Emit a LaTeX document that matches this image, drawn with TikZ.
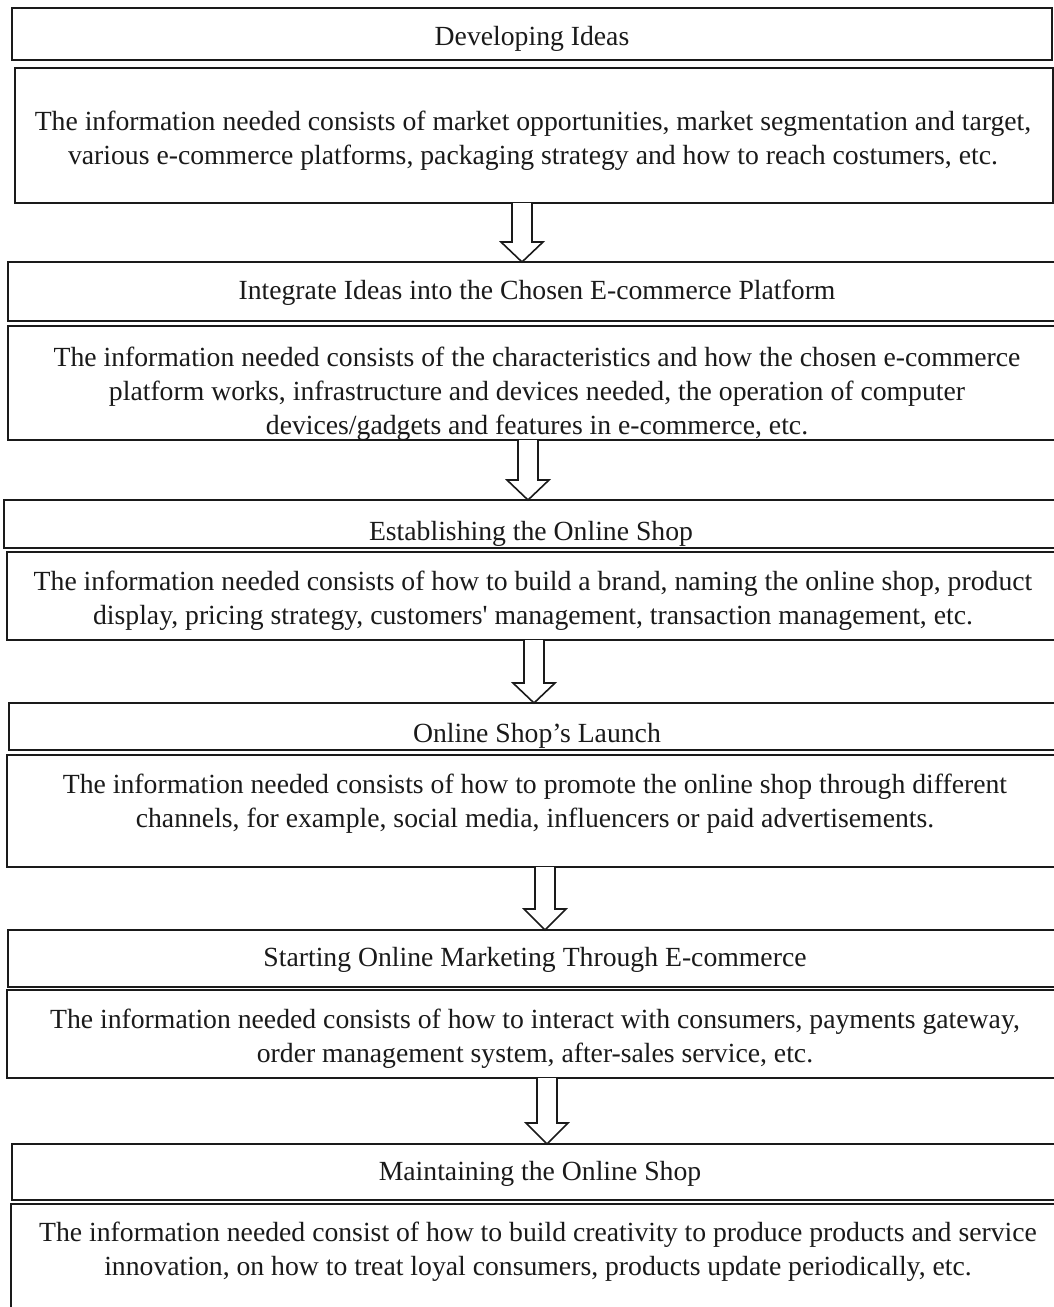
\documentclass[tikz,border=0pt]{standalone}
\usepackage{fontspec}
\setmainfont{Liberation Serif}
\usetikzlibrary{calc}
\definecolor{ink}{HTML}{1A1A1A}
\tikzset{
  x=1pt,y=1pt,
  boxnode/.style={draw=ink, line width=1.8pt, rectangle, inner sep=0pt, outer sep=0pt, anchor=north west},
  txt/.style={inner sep=0pt, align=center, text=ink, font=\fontsize{27.7}{34}\selectfont},
  blockarrow/.style={draw=ink, line width=1.6pt, fill=white, line join=miter}
}
\newcommand\mkbox[5]{\node[boxnode, minimum width={#4-#2}, minimum height={#5-#3}] (#1) at (#2,-#3) {};}
\begin{document}
\begin{tikzpicture}
\useasboundingbox (0,0) rectangle (1054,-1307);
\clip (0,0) rectangle (1054,-1307);
\fill[white] (0,0) rectangle (1054,-1307);
% boxes
\mkbox{b1}{12}{8}{1052}{60}
\mkbox{b2}{15}{68}{1053}{203}
\mkbox{b3}{8}{262}{1064}{321}
\mkbox{b4}{8}{326}{1064}{440}
\mkbox{b5}{4}{500}{1064}{548}
\mkbox{b6}{7}{552}{1064}{640}
\mkbox{b7}{9}{703}{1064}{750}
\mkbox{b8}{7}{755}{1064}{867}
\mkbox{b9}{8}{930}{1064}{987}
\mkbox{b10}{7}{990}{1064}{1078}
\mkbox{b11}{12}{1144}{1064}{1200}
\mkbox{b12}{11}{1204}{1064}{1330}
% texts
\node[txt] (t1) at (532,-39) {Developing Ideas};
\node[txt] (t2) at (533,-141) {The information needed consists of market opportunities, market segmentation and target,\\various e-commerce platforms, packaging strategy and how to reach costumers, etc.};
\node[txt] (t3) at (537,-293) {Integrate Ideas into the Chosen E-commerce Platform};
\begin{scope}
\clip (b4.north west) rectangle (b4.south east);
\node[txt] (t4) at (537,-394) {The information needed consists of the characteristics and how the chosen e-commerce\\platform works, infrastructure and devices needed, the operation of computer\\devices/gadgets and features in e-commerce, etc.};
\end{scope}
\begin{scope}
\clip (b5.north west) rectangle (b5.south east);
\node[txt] (t5) at (531,-534) {Establishing the Online Shop};
\end{scope}
\node[txt] (t6) at (533,-601) {The information needed consists of how to build a brand, naming the online shop, product\\display, pricing strategy, customers\textquotesingle{} management, transaction management, etc.};
\begin{scope}
\clip (b7.north west) rectangle (b7.south east);
\node[txt] (t7) at (537,-736) {Online Shop’s Launch};
\end{scope}
\node[txt] (t8) at (535,-804) {The information needed consists of how to promote the online shop through different\\channels, for example, social media, influencers or paid advertisements.};
\node[txt] (t9) at (535,-960) {Starting Online Marketing Through E-commerce};
\node[txt] (t10) at (535,-1039) {The information needed consists of how to interact with consumers, payments gateway,\\order management system, after-sales service, etc.};
\node[txt] (t11) at (540,-1174) {Maintaining the Online Shop};
\node[txt] (t12) at (538,-1252) {The information needed consist of how to build creativity to produce products and service\\innovation, on how to treat loyal consumers, products update periodically, etc.};
% block arrows
\draw[blockarrow] (b2.south -| 512,0) -- ($(b3.north -| 512,0)+(0,20)$) -- ++(-11,0) -- (b3.north -| 522,0) -- ++(21,20) -- ++(-11,0) -- (b2.south -| 532,0);
\draw[blockarrow] (b4.south -| 518,0) -- ($(b5.north -| 518,0)+(0,20)$) -- ++(-11,0) -- (b5.north -| 528,0) -- ++(21,20) -- ++(-11,0) -- (b4.south -| 538,0);
\draw[blockarrow] (b6.south -| 524,0) -- ($(b7.north -| 524,0)+(0,20)$) -- ++(-11,0) -- (b7.north -| 534,0) -- ++(21,20) -- ++(-11,0) -- (b6.south -| 544,0);
\draw[blockarrow] (b8.south -| 535,0) -- ($(b9.north -| 535,0)+(0,21)$) -- ++(-11,0) -- (b9.north -| 545,0) -- ++(21,21) -- ++(-11,0) -- (b8.south -| 555,0);
\draw[blockarrow] (b10.south -| 537,0) -- ($(b11.north -| 537,0)+(0,21)$) -- ++(-11,0) -- (b11.north -| 547,0) -- ++(21,21) -- ++(-11,0) -- (b10.south -| 557,0);
\end{tikzpicture}
\end{document}
